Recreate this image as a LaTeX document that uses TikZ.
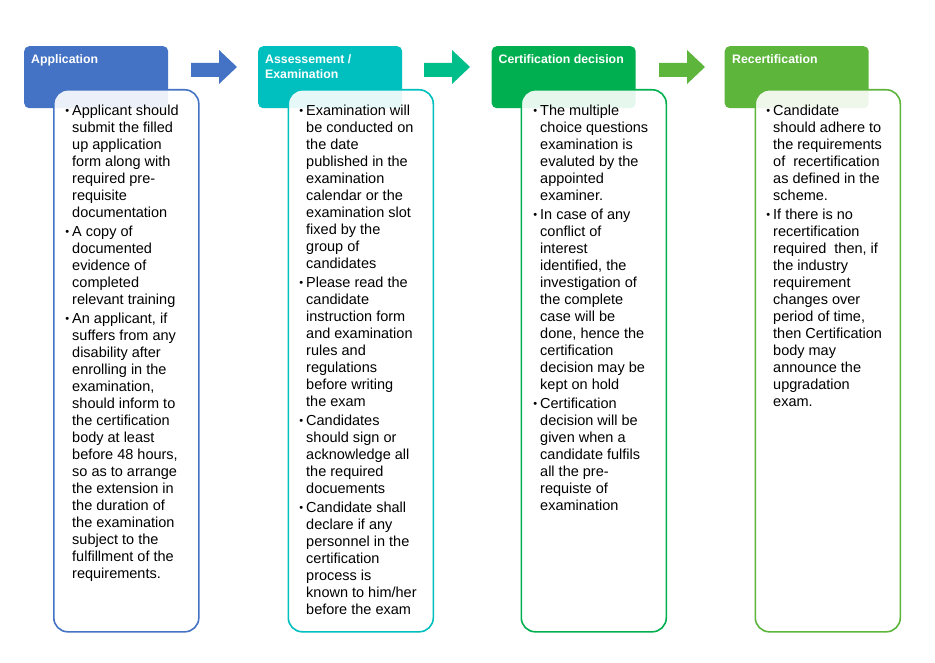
\documentclass[tikz,border=0pt]{standalone}
\usepackage{fontspec}
\setmainfont{Liberation Sans}
\definecolor{appblue}{HTML}{4472C4}
\definecolor{asteal}{HTML}{00BFBF}
\definecolor{arrteal}{HTML}{00BE8A}
\definecolor{certgreen}{HTML}{00B050}
\definecolor{recgreen}{HTML}{5DB53C}
\newcommand\mybul{\llap{\raisebox{1pt}{\fontsize{11}{11}\selectfont •}\hspace{3pt}}}
\begin{document}
\begin{tikzpicture}[x=1pt,y=-1pt,
  hdr/.style={draw=none, fill=#1, rounded corners=5pt, anchor=north west,
    minimum width=144pt, minimum height=62pt, inner sep=0pt},
  bodybox/.style={draw=#1, line width=1.6pt, fill=white, fill opacity=0.9,
    rounded corners=14pt, anchor=north west, minimum width=145pt,
    minimum height=542pt, inner sep=0pt},
  hdrtext/.style={text=white, font=\fontsize{12.3}{15}\selectfont\bfseries,
    anchor=north west, inner sep=0pt, align=left},
  bodytext/.style={text=black, font=\fontsize{14.5}{17}\selectfont,
    anchor=north west, inner sep=0pt, align=left},
  blockarrow/.style={fill=#1, draw=none}]
\useasboundingbox (0,0) rectangle (935,663);
\fill[white] (0,0) rectangle (935,663);

% headers
\node[hdr=appblue] (h1) at (24,46) {};
\node[hdr=asteal] (h2) at (258,46) {};
\node[hdr=certgreen] (h3) at (491.5,46) {};
\node[hdr=recgreen] (h4) at (724.5,46) {};

% header texts
\node[hdrtext] (ht1) at (31,54.5) {Application};
\node[hdrtext] (ht2) at (265,54.5) {Assessement /\\Examination};
\node[hdrtext] (ht3) at (498.5,54.5) {Certification decision};
\node[hdrtext] (ht4) at (732,54.5) {Recertification};

% arrows
\fill[blockarrow=appblue] (191,63) -- (219,63) -- (219,50) -- (237,67) -- (219,84) -- (219,77) -- (191,77) -- cycle;
\fill[blockarrow=arrteal] (424,63) -- (452,63) -- (452,50) -- (470,67) -- (452,84) -- (452,77) -- (424,77) -- cycle;
\fill[blockarrow=recgreen] (659,63) -- (687,63) -- (687,50) -- (705,67) -- (687,84) -- (687,77) -- (659,77) -- cycle;

% bodies
\node[bodybox=appblue] (b1) at (53,89) {};
\node[bodybox=asteal] (b2) at (287.5,89) {};
\node[bodybox=certgreen] (b3) at (520.5,89) {};
\node[bodybox=recgreen] (b4) at (754.5,89) {};

% body texts
\node[bodytext] (t1) at (72,105) {\mybul Applicant should\\
submit the filled\\
up application\\
form along with\\
required pre-\\
requisite\\
documentation\\[2pt]
\mybul A copy of\\
documented\\
evidence of\\
completed\\
relevant training\\[2pt]
\mybul An applicant, if\\
suffers from any\\
disability after\\
enrolling in the\\
examination,\\
should inform to\\
the certification\\
body at least\\
before 48 hours,\\
so as to arrange\\
the extension in\\
the duration of\\
the examination\\
subject to the\\
fulfillment of the\\
requirements.};

\node[bodytext] (t2) at (306,105) {\mybul Examination will\\
be conducted on\\
the date\\
published in the\\
examination\\
calendar or the\\
examination slot\\
fixed by the\\
group of\\
candidates\\[2pt]
\mybul Please read the\\
candidate\\
instruction form\\
and examination\\
rules and\\
regulations\\
before writing\\
the exam\\[2pt]
\mybul Candidates\\
should sign or\\
acknowledge all\\
the required\\
docuements\\[2pt]
\mybul Candidate shall\\
declare if any\\
personnel in the\\
certification\\
process is\\
known to him/her\\
before the exam};

\node[bodytext] (t3) at (540,105) {\mybul The multiple\\
choice questions\\
examination is\\
evaluted by the\\
appointed\\
examiner.\\[2pt]
\mybul In case of any\\
conflict of\\
interest\\
identified, the\\
investigation of\\
the complete\\
case will be\\
done, hence the\\
certification\\
decision may be\\
kept on hold\\[2pt]
\mybul Certification\\
decision will be\\
given when a\\
candidate fulfils\\
all the pre-\\
requiste of\\
examination};

\node[bodytext] (t4) at (773,105) {\mybul Candidate\\
should adhere to\\
the requirements\\
of~ recertification\\
as defined in the\\
scheme.\\[2pt]
\mybul If there is no\\
recertification\\
required~ then, if\\
the industry\\
requirement\\
changes over\\
period of time,\\
then Certification\\
body may\\
announce the\\
upgradation\\
exam.};
\end{tikzpicture}
\end{document}
